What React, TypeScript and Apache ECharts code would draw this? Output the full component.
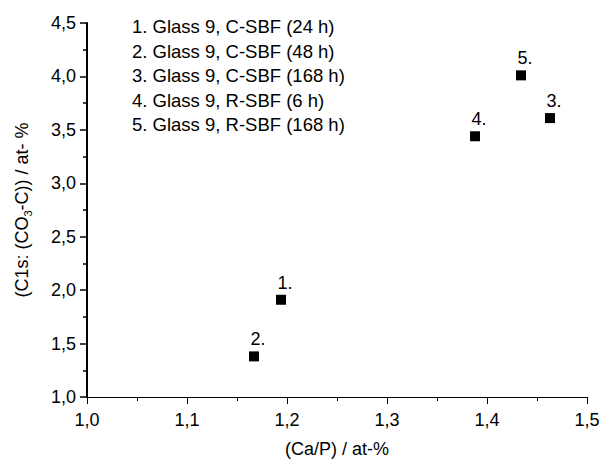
import React, { useEffect, useRef } from "react";
import * as echarts from "echarts";

const pointLabels = ["1.", "2.", "3.", "4.", "5."];
const caP = [1.194, 1.167, 1.463, 1.388, 1.434];
const c1s = [1.91, 1.38, 3.61, 3.44, 4.01];
const legendLines = [
  "1. Glass 9, C-SBF (24 h)",
  "2. Glass 9, C-SBF (48 h)",
  "3. Glass 9, C-SBF (168 h)",
  "4. Glass 9, R-SBF (6 h)",
  "5. Glass 9, R-SBF (168 h)",
];
const xRange = [1.0, 1.5];
const yRange = [1.0, 4.5];

const FONT = "'Liberation Sans', Arial, sans-serif";
const FS = 18;
const comma = (v: number) => v.toFixed(1).replace(".", ",");

export default function App() {
  const ref = useRef<HTMLDivElement>(null);
  useEffect(() => {
    if (!ref.current) return;
    const chart = echarts.init(ref.current, null, { renderer: "svg" });
    chart.setOption({
      animation: false,
      backgroundColor: "#ffffff",
      textStyle: { fontFamily: FONT },
      grid: { left: 87, right: 25, top: 23, bottom: 67, containLabel: false },
      xAxis: {
        type: "value",
        min: xRange[0],
        max: xRange[1],
        interval: 0.1,
        name: "(Ca/P) / at-%",
        nameLocation: "middle",
        nameGap: 43,
        nameTextStyle: { fontFamily: FONT, fontSize: FS, color: "#000", verticalAlign: "top" },
        axisLine: { show: true, lineStyle: { color: "#000", width: 1 } },
        axisTick: { show: true, length: 7, lineStyle: { color: "#000", width: 1 } },
        minorTick: { show: true, splitNumber: 2, length: 4, lineStyle: { color: "#000", width: 1 } },
        splitLine: { show: false },
        axisLabel: { formatter: comma, fontFamily: FONT, fontSize: FS, color: "#000", margin: 14 },
      },
      yAxis: {
        type: "value",
        min: yRange[0],
        max: yRange[1],
        interval: 0.5,
        name: "{n|(C1s: (CO}{s|3}{n|-C)) / at- %}",
        nameLocation: "middle",
        nameGap: 54,
        nameRotate: 90,
        nameTextStyle: {
          fontFamily: FONT,
          fontSize: FS,
          color: "#000",
          rich: {
            n: { fontFamily: FONT, fontSize: FS, color: "#000" },
            s: { fontFamily: FONT, fontSize: 11, color: "#000", verticalAlign: "bottom", padding: [12, 0, 0, 0] },
          },
        },
        axisLine: { show: true, lineStyle: { color: "#000", width: 2 } },
        axisTick: { show: true, length: 7, lineStyle: { color: "#000", width: 1.5 } },
        minorTick: { show: true, splitNumber: 2, length: 4, lineStyle: { color: "#000", width: 1.5 } },
        splitLine: { show: false },
        axisLabel: { formatter: comma, fontFamily: FONT, fontSize: FS, color: "#000", margin: 11 },
      },
      graphic: legendLines.map((t, i) => ({
        type: "text",
        left: 132,
        top: 17 + i * 24.5,
        style: { text: t, fontFamily: FONT, fontSize: 18.5, fill: "#000" },
      })),
      series: [
        {
          type: "scatter",
          symbol: "rect",
          symbolSize: 10,
          itemStyle: { color: "#000", opacity: 1 },
          data: caP.map((x, i) => ({ value: [x, c1s[i]], name: pointLabels[i] })),
          label: {
            show: true,
            position: "top",
            distance: 3,
            offset: [4, 0],
            formatter: (p: any) => p.name,
            fontFamily: FONT,
            fontSize: FS,
            color: "#000",
          },
        },
      ],
    });
    return () => chart.dispose();
  }, []);
  return <div ref={ref} style={{ width: 612, height: 464, position: "absolute", left: 0, top: 0 }} />;
}
